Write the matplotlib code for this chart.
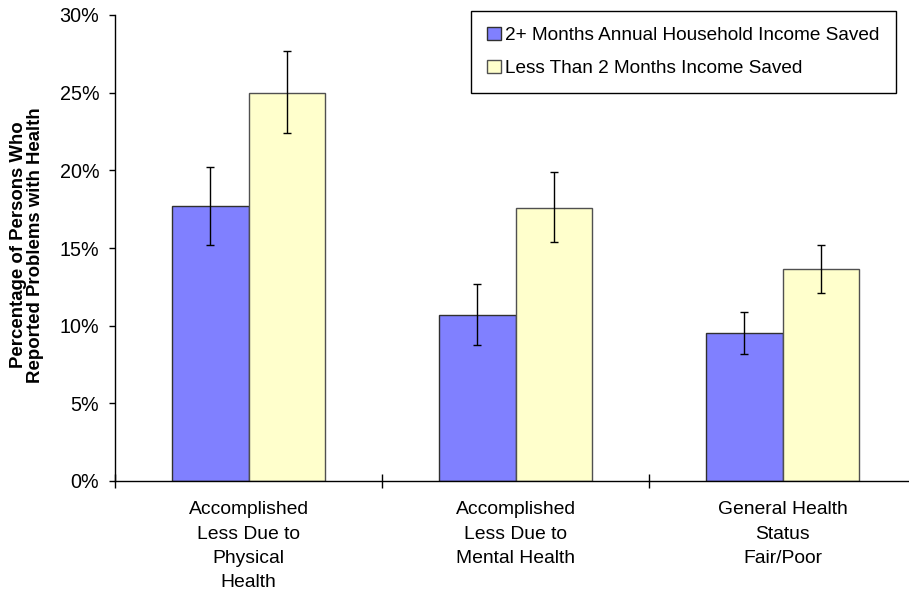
#!/usr/bin/env python3
# -*- coding: utf-8 -*-

# %% -----------------------------------------------------------------------------------------------
# Import modules

import numpy as np
import matplotlib
matplotlib.use('Agg')
from matplotlib import pyplot as plt
from matplotlib.ticker import FixedLocator, PercentFormatter

# %% -----------------------------------------------------------------------------------------------
# Data (percent)

categories = ['Accomplished\nLess Due to\nPhysical\nHealth',
              'Accomplished\nLess Due to\nMental Health',
              'General Health\nStatus\nFair/Poor']
series_names = ['2+ Months Annual Household Income Saved',
                'Less Than 2 Months Income Saved']
saved_2plus = [17.7, 10.7, 9.5]
saved_2plus_lo = [15.2, 8.75, 8.15]
saved_2plus_hi = [20.2, 12.7, 10.85]
saved_less = [25.0, 17.6, 13.65]
saved_less_lo = [22.4, 15.4, 12.1]
saved_less_hi = [27.7, 19.9, 15.2]
yticks = [0, 5, 10, 15, 20, 25, 30]

# %% -----------------------------------------------------------------------------------------------
# Plot

plt.rcParams['font.family'] = ['Liberation Sans', 'DejaVu Sans']

W, H = 909, 592
fig = plt.figure(figsize=[W/100, H/100], dpi=100)
ax = fig.add_axes([115/W, 111/H, 801/W, 466/H])

x = np.arange(len(categories))
bw = 0.285
col_blue = '#8080FF'
col_yel = '#FFFFCC'

err_blue = [np.array(saved_2plus) - np.array(saved_2plus_lo),
            np.array(saved_2plus_hi) - np.array(saved_2plus)]
err_yel = [np.array(saved_less) - np.array(saved_less_lo),
           np.array(saved_less_hi) - np.array(saved_less)]

ax.bar(x - bw/2, saved_2plus, bw, color=col_blue, edgecolor='#303030', linewidth=1,
       label=series_names[0], zorder=2)
ax.bar(x + bw/2, saved_less, bw, color=col_yel, edgecolor='#505050', linewidth=1,
       label=series_names[1], zorder=2)
ax.errorbar(x - bw/2, saved_2plus, yerr=err_blue, fmt='none', ecolor='black',
            elinewidth=1, capsize=2.6, capthick=1, zorder=3)
ax.errorbar(x + bw/2, saved_less, yerr=err_yel, fmt='none', ecolor='black',
            elinewidth=1, capsize=2.6, capthick=1, zorder=3)

# axes limits and ticks
ax.set_xlim(-0.5, 2.5)
ax.set_ylim(0, 30)
ax.set_yticks(yticks)
ax.yaxis.set_major_formatter(PercentFormatter(decimals=0))
ax.tick_params(axis='y', direction='out', length=4.3, width=1, pad=7, labelsize=14.2)

ax.set_xticks(x)
ax.set_xticklabels(categories, fontsize=13.9, linespacing=1.57)
ax.tick_params(axis='x', which='major', length=0, pad=14.5)
ax.xaxis.set_minor_locator(FixedLocator([-0.5, 0.5, 1.5, 2.5]))
ax.tick_params(axis='x', which='minor', direction='inout', length=9.4, width=1)

for s in ['top', 'right']:
    ax.spines[s].set_visible(False)
ax.spines['left'].set_linewidth(1)
ax.spines['bottom'].set_linewidth(1)

# y label
fig.text(27/W, 1 - 245/H, 'Percentage of Persons Who\nReported Problems with Health',
         rotation=90, ha='center', va='center', multialignment='center',
         fontsize=13.4, fontweight='bold', linespacing=1.0)

# legend
leg = fig.legend(loc='upper right', bbox_to_anchor=(896/W, 1 - 11/H), fontsize=13.7,
                 frameon=True, fancybox=False, edgecolor='black', framealpha=1,
                 borderpad=0.85, labelspacing=0.8, handlelength=0.7, handleheight=0.7,
                 handletextpad=0.25, borderaxespad=0)
leg.get_frame().set_linewidth(1)

fig.savefig('out.png', dpi=100)
